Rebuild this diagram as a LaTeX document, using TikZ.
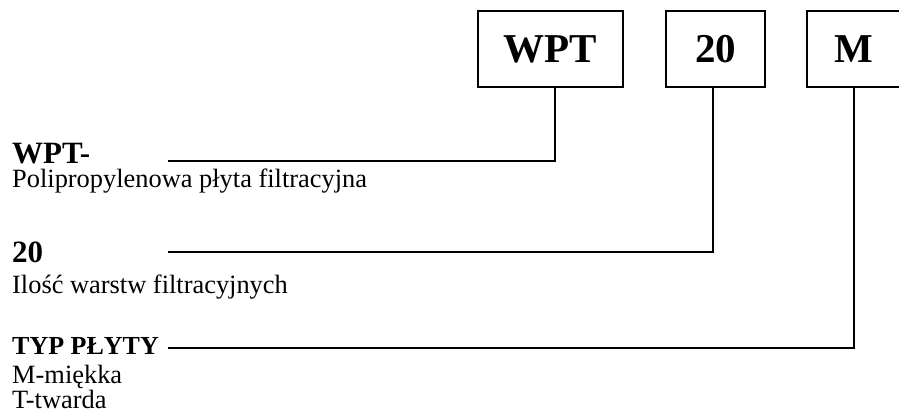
\documentclass[tikz,border=0pt]{standalone}
\usepackage{fontspec}
\setmainfont{Liberation Serif}
\begin{document}
\begin{tikzpicture}[x=1pt,y=-1pt,
  codebox/.style={draw,line width=1.5pt,inner sep=0pt,minimum height=76pt,
    font=\fontsize{41}{41}\selectfont\bfseries},
  title/.style={anchor=base west,inner sep=0pt,font=\fontsize{31}{31}\selectfont\bfseries},
  smalltitle/.style={anchor=base west,inner sep=0pt,font=\fontsize{26}{26}\selectfont\bfseries},
  desc/.style={anchor=base west,inner sep=0pt,font=\fontsize{26.4}{26.4}\selectfont},
  conn/.style={line width=2pt}]
\path[use as bounding box] (0,0) rectangle (899,419);
\clip (0,0) rectangle (899,419);
\fill[white] (0,0) rectangle (899,419);
% code boxes
\node[codebox,minimum width=145pt] (b1) at (550.5,49) {WPT};
\node[codebox,minimum width=99pt] (b2) at (715.5,49) {20};
\node[codebox,minimum width=93pt] (b3) at (853.5,49) {M};
% labels
\node[title] (t1) at (12,163.5) {WPT-};
\node[desc] (d1) at (12,188) {Polipropylenowa płyta filtracyjna};
\node[title] (t2) at (12,262.3) {20};
\node[desc] (d2) at (12,294) {Ilość warstw filtracyjnych};
\node[smalltitle] (t3) at (12,355) {TYP PŁYTY};
\node[desc] (d3) at (12,383.3) {M-miękka};
\node[desc] (d4) at (12,408.3) {T-twarda};
% line starts
\coordinate (s1) at (168,161);
\coordinate (s2) at (168,252);
\coordinate (s3) at (168,348);
% connectors
\draw[conn] (s1) -| ([xshift=4.5pt]b1.south);
\draw[conn] (s2) -| ([xshift=-2.5pt]b2.south);
\draw[conn] (s3) -| (b3.south);
\end{tikzpicture}
\end{document}
